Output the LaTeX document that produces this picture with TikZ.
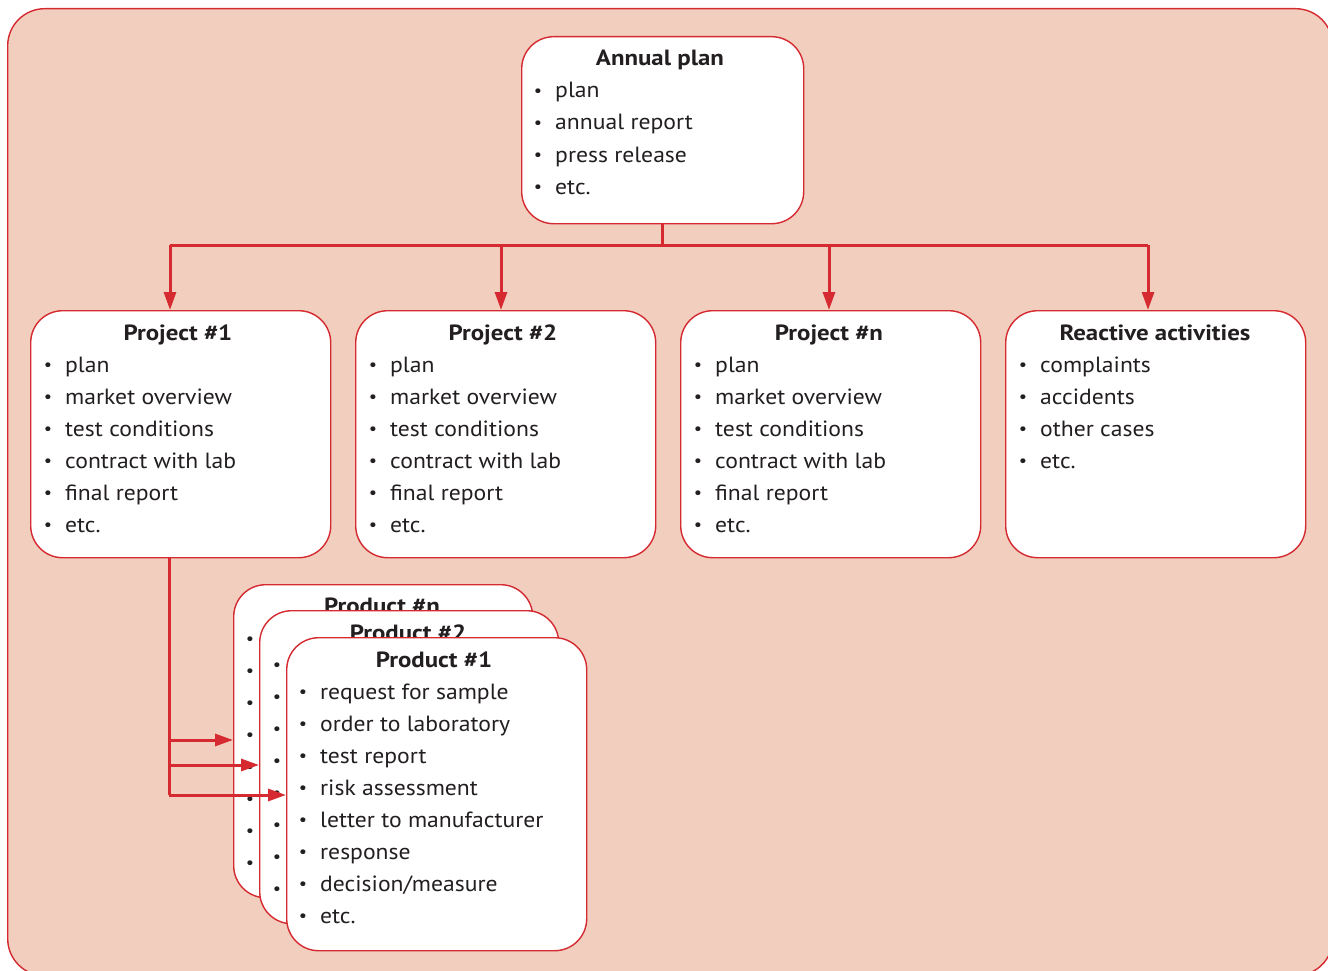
\documentclass[tikz,border=0pt]{standalone}
\usepackage{fontspec}
\setmainfont{PT Sans}[FakeStretch=1.075, BoldFeatures={FakeStretch=1.13}]
\usetikzlibrary{arrows.meta}
\definecolor{bg}{HTML}{F2CEBF}
\definecolor{rd}{HTML}{D42A30}
\definecolor{tx}{HTML}{231F20}
\tikzset{
  box/.style={draw=rd, line width=1.4pt, fill=white, rounded corners=32pt, inner sep=0pt, anchor=north west},
  ttl/.style={font=\fontsize{22}{26}\selectfont\bfseries, text=tx, inner sep=0pt, anchor=base},
  itm/.style={font=\fontsize{22}{26}\selectfont, text=tx, inner sep=0pt, anchor=base west},
  bul/.style={font=\fontsize{17}{20}\selectfont, text=tx, inner sep=0pt, anchor=base, yshift=1.6pt},
  conn/.style={draw=rd, line width=3pt},
  arr/.style={conn, -{Triangle[length=18pt,width=12pt]}},
}
\newcommand\blist[5]{% prefix, bullet x, text x, first baseline, items
  \foreach \t [count=\i from 0] in {#5} {%
    \node[bul] (#1b\i) at (#2, #4+32*\i) {•};
    \node[itm] (#1i\i) at (#3, #4+32*\i) {\t};}}
\newcommand\bdots[4]{% prefix, bullet x, first baseline, count
  \foreach \i in {1,...,#4} {%
    \node[bul] (#1d\i) at (#2, #3+32*\i-32) {•};}}
\begin{document}
\begin{tikzpicture}[x=1pt,y=-1pt]
\useasboundingbox (0,0) rectangle (1328,971);
\node[draw=rd, fill=bg, line width=1.4pt, rounded corners=37pt, inner sep=0pt, anchor=north west,
      minimum width=1325pt, minimum height=967pt] (frame) at (7,8) {};

% Annual plan
\node[box, minimum width=282pt, minimum height=187pt] (ap) at (521,36) {};
\node[ttl] (apt) at (660,66) {Annual plan};
\blist{ap}{538}{555}{98}{plan, annual report, press release, etc.}

% Projects
\node[box, minimum width=300pt, minimum height=247pt] (p1) at (30,310) {};
\node[ttl] (p1t) at (178,340) {Project \#1};
\blist{pa}{48}{65}{372}{plan, market overview, test conditions, contract with lab, final report, etc.}

\node[box, minimum width=300pt, minimum height=247pt] (p2) at (355,310) {};
\node[ttl] (p2t) at (503,340) {Project \#2};
\blist{pb}{373}{390}{372}{plan, market overview, test conditions, contract with lab, final report, etc.}

\node[box, minimum width=300pt, minimum height=247pt] (pn) at (680,310) {};
\node[ttl] (pnt) at (829,340) {Project \#n};
\blist{pc}{698}{715}{372}{plan, market overview, test conditions, contract with lab, final report, etc.}

\node[box, minimum width=300pt, minimum height=247pt] (ra) at (1005,310) {};
\node[ttl] (rat) at (1155,340) {Reactive activities};
\blist{pd}{1023}{1040}{372}{complaints, accidents, other cases, etc.}

% Products (back to front)
\node[box, minimum width=299pt, minimum height=313pt] (prn) at (233,584) {};
\node[ttl] (prnt) at (382,613) {Product \#n};
\bdots{qn}{250}{646}{8}

\node[box, minimum width=299pt, minimum height=313pt] (pr2) at (259,610) {};
\node[ttl] (pr2t) at (408,640) {Product \#2};
\bdots{q2}{277}{672}{8}

\node[box, minimum width=300pt, minimum height=313pt] (pr1) at (286,637) {};
\node[ttl] (pr1t) at (434,667) {Product \#1};
\blist{q1}{303}{320}{699}{request for sample, order to laboratory, test report, risk assessment, letter to manufacturer, response, decision/measure, etc.}

% Connectors
\coordinate (bus) at (662,245);
\coordinate (j1) at (170,245);
\coordinate (j2) at (501,245);
\coordinate (j3) at (829,245);
\coordinate (j4) at (1148,245);
\draw[conn] (ap.south -| bus) -- (bus);
\draw[conn] (j1) -- (j4);
\draw[arr] (j1) -- (j1 |- p1.north);
\draw[arr] (j2) -- (j2 |- p2.north);
\draw[arr] (j3) -- (j3 |- pn.north);
\draw[arr] (j4) -- (j4 |- ra.north);

\coordinate (top) at (169,557);
\coordinate (k1) at (169,740);
\coordinate (k2) at (169,765);
\coordinate (k3) at (169,795);
\draw[conn] (top) -- (k3);
\draw[arr] (k1) -- (prn.west |- k1);
\draw[arr] (k2) -- (pr2.west |- k2);
\draw[arr] (k3) -- (pr1.west |- k3);
\end{tikzpicture}
\end{document}
